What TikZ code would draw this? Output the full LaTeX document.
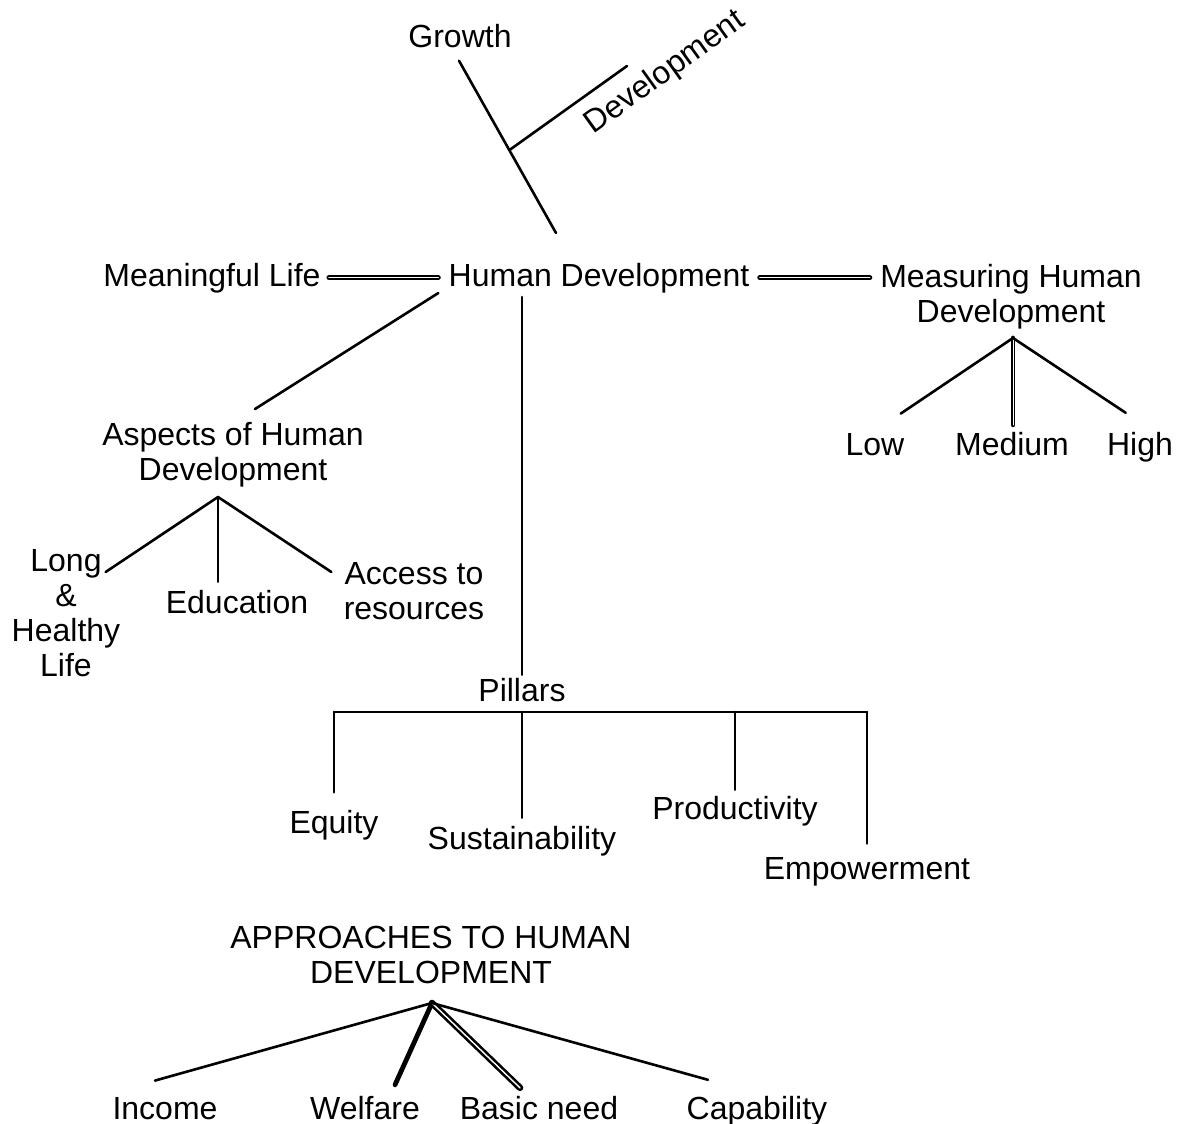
\documentclass[tikz,border=0pt]{standalone}
\usepackage{fontspec}
\setmainfont{Liberation Sans}
\tikzset{
  txt/.style={inner sep=0pt, align=center, font=\fontsize{16}{17.5}\selectfont},
  ln/.style={line width=1.3pt, line cap=round},
  dbl/.style={double, line width=1pt, double distance=0.45pt},
}
\begin{document}
\begin{tikzpicture}[x=0.5pt,y=-0.5pt]
  \useasboundingbox (0,0) rectangle (1180,1124);
  % labels
  \node[txt,anchor=base] (growth) at (460,47) {Growth};
  \node[txt,rotate=35.7] (devt) at (665,73) {Development};
  \node[txt,anchor=base] (ml) at (212,286) {Meaningful Life};
  \node[txt,anchor=base] (hd) at (599,286) {Human Development};
  \node[txt,anchor=north] (mhd) at (1011,264) {Measuring Human\\Development};
  \node[txt,anchor=north] (asp) at (233,422) {Aspects of Human\\Development};
  \node[txt,anchor=north] (long) at (66,549) {Long\\\&\\Healthy\\Life};
  \node[txt,anchor=base] (edu) at (237,613) {Education};
  \node[txt,anchor=north] (access) at (414,562) {Access to\\resources};
  \node[txt,anchor=base] (low) at (875,455) {Low};
  \node[txt,anchor=base] (medium) at (1012,455) {Medium};
  \node[txt,anchor=base] (high) at (1140,455) {High};
  \node[txt,anchor=base] (pillars) at (522,701) {Pillars};
  \node[txt,anchor=base] (equity) at (334,833) {Equity};
  \node[txt,anchor=base] (sust) at (522,849) {Sustainability};
  \node[txt,anchor=base] (prod) at (735,819) {Productivity};
  \node[txt,anchor=base] (empower) at (867,879) {Empowerment};
  \node[txt,anchor=north] (appr) at (431,926) {APPROACHES TO HUMAN\\DEVELOPMENT};
  \node[txt,anchor=base] (income) at (165,1119) {Income};
  \node[txt,anchor=base] (welfare) at (365,1119) {Welfare};
  \node[txt,anchor=base] (basic) at (539,1119) {Basic need};
  \node[txt,anchor=base] (capab) at (757,1119) {Capability};
  % joints
  \coordinate (gbot) at (556,233);
  \coordinate (gjoin) at (509.5,150);
  \coordinate (dtip) at (627,66);
  \coordinate (aroot) at (218,497);
  \coordinate (mroot) at (1013,338);
  \coordinate (pbar) at (522,712);
  \coordinate (aproot) at (432,1003);
  \begin{scope}[ln]
    \draw ([xshift=-0.5pt,yshift=-6.5pt]growth.south) -- (gbot);
    \draw (gjoin) -- (dtip);
    \draw[dbl,shorten <=4pt,shorten >=5pt] (ml.east) -- (ml.east -| hd.west);
    \draw[dbl,shorten <=5pt,shorten >=5pt] (hd.east) -- (hd.east -| mhd.west);
    \draw ([xshift=-5pt]hd.south west) -- ([xshift=11pt,yshift=6.5pt]asp.north);
    \draw[shorten <=2pt,shorten >=1.3pt] (pillars.north |- hd.south) -- (pillars.north);
    % aspects
    \draw (aroot) -- ([xshift=-7.5pt,yshift=-11.5pt]long.north east);
    \draw[shorten >=3.8pt] (aroot) -- (aroot |- edu.north);
    \draw (aroot) -- ([xshift=-6pt,yshift=-5pt]access.north west);
    % measuring
    \draw (mroot) -- ([xshift=-2pt,yshift=9.5pt]low.north east);
    \draw[dbl,shorten >=3.3pt] (mroot) -- (mroot |- medium.north);
    \draw (mroot) -- ([xshift=9.5pt,yshift=9.3pt]high.north west);
    % pillars
    \draw (equity.north |- pbar) -- (empower.north |- pbar);
    \draw[shorten >=8.5pt] (equity.north |- pbar) -- (equity.north);
    \draw[shorten >=3.8pt] (pbar) -- (sust.north);
    \draw[shorten >=2.8pt] (prod.north |- pbar) -- (prod.north);
    \draw[shorten >=6.5pt] (empower.north |- pbar) -- (empower.north);
    % approaches
    \draw (aproot) -- ([xshift=-5pt,yshift=8pt]income.north);
    \draw[line width=2.4pt] (aproot) -- ([xshift=15pt,yshift=5.3pt]welfare.north);
    \draw[dbl,line width=1.3pt,double distance=0.7pt] (aproot) -- ([xshift=-9.5pt,yshift=3.8pt]basic.north);
    \draw (aproot) -- ([xshift=-24.5pt,yshift=7.8pt]capab.north);
  \end{scope}
\end{tikzpicture}
\end{document}
